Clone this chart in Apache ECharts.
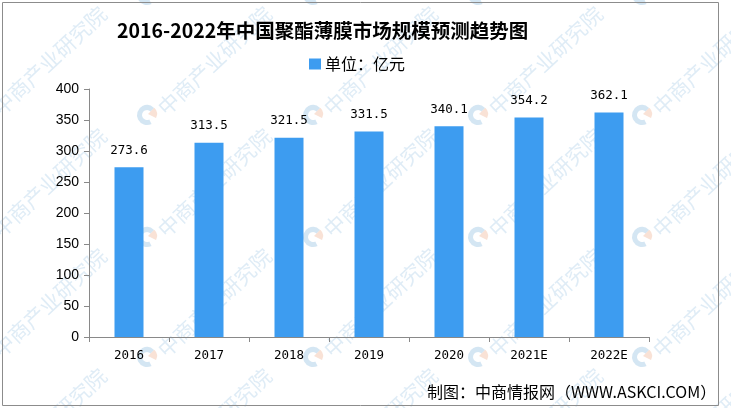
<!DOCTYPE html>
<html>
<head>
<meta charset="utf-8">
<script src="https://cdn.jsdelivr.net/npm/echarts@6/dist/echarts.min.js"></script>
<style>
  html, body { margin: 0; padding: 0; background: #fff; }
  #chart { width: 731px; height: 408px; }
</style>
</head>
<body>
<div id="chart"></div>
<script>
// 年份与市场规模（亿元）
var years = ['2016', '2017', '2018', '2019', '2020', '2021E', '2022E'];
var scale = [273.6, 313.5, 321.5, 331.5, 340.1, 354.2, 362.1];
var yTicks = { min: 0, max: 400, interval: 50 };

var monoFont = '"DejaVu Sans Mono", "Liberation Mono", monospace';
var sansFont = '"Liberation Sans", Arial, sans-serif';
var cjkFont = '"Noto Sans CJK SC", sans-serif';

// 水印（中商产业研究院），铺在柱子下面
var wmCols = [-18, 147, 313, 478, 642, 807];
var wmRows = [-5, 115, 237, 357, 477];
var watermark = [];
wmCols.forEach(function (cx) {
  wmRows.forEach(function (cy) {
    watermark.push({
      type: 'group', x: cx, y: cy, z: -10, silent: true,
      children: [
        { type: 'arc', shape: { cx: 0, cy: 0, r: 7.5, startAngle: Math.PI * 0.35, endAngle: Math.PI * 1.75 },
          style: { stroke: 'rgba(170,205,232,0.5)', lineWidth: 5, fill: 'none' } },
        { type: 'sector', shape: { cx: 1, cy: -1, r0: 0, r: 9, startAngle: Math.PI * 1.75, endAngle: Math.PI * 2.15 },
          style: { fill: 'rgba(242,190,165,0.45)' } },
        { type: 'text', x: 14, y: -4, rotation: Math.PI * 0.24,
          style: { text: '中商产业研究院', fontFamily: cjkFont, fontWeight: 'normal', fontSize: 21,
                   fill: 'rgba(185,213,236,0.45)', textAlign: 'left', textVerticalAlign: 'middle' } }
      ]
    });
  });
});

var chart = echarts.init(document.getElementById('chart'));
var option = {
  backgroundColor: '#fff',
  animation: false,
  title: {
    text: '2016-2022年中国聚酯薄膜市场规模预测趋势图',
    left: 112,
    top: 16,
    textStyle: { fontFamily: cjkFont, fontSize: 19.5, fontWeight: 'bold', color: '#000' }
  },
  legend: {
    data: ['单位：亿元'],
    top: 51,
    left: 304,
    itemWidth: 12,
    itemHeight: 11,
    itemGap: 6,
    icon: 'rect',
    textStyle: { fontFamily: cjkFont, fontSize: 16, color: '#000', padding: [0, 0, 0, -1] }
  },
  grid: { left: 89, right: 82, top: 89, bottom: 71 },
  xAxis: {
    type: 'category',
    data: years,
    axisLine: { lineStyle: { color: '#898989' } },
    axisTick: { show: true, alignWithLabel: false, length: 5, lineStyle: { color: '#898989' } },
    axisLabel: { fontFamily: monoFont, fontSize: 12.5, color: '#000', margin: 12 }
  },
  yAxis: {
    type: 'value',
    min: yTicks.min,
    max: yTicks.max,
    interval: yTicks.interval,
    axisLine: { show: true, lineStyle: { color: '#898989' } },
    axisTick: { show: true, length: 5, lineStyle: { color: '#898989' } },
    splitLine: { show: false },
    axisLabel: { fontFamily: sansFont, fontSize: 14, color: '#000', margin: 10 }
  },
  series: [{
    name: '单位：亿元',
    type: 'bar',
    data: scale,
    barWidth: 29,
    itemStyle: { color: '#3D9CF0' },
    label: {
      show: true,
      position: 'top',
      distance: 10,
      fontFamily: monoFont,
      fontSize: 12.5,
      color: '#000',
      formatter: function (p) { return p.value.toFixed(1); }
    }
  }],
  graphic: watermark.concat([
    {
      type: 'rect',
      shape: { x: 2.5, y: 2.5, width: 716, height: 403 },
      style: { fill: 'none', stroke: '#8c8c8c', lineWidth: 1 },
      silent: true
    },
    {
      type: 'text',
      left: 427,
      top: 384,
      style: {
        text: '制图：中商情报网（WWW.ASKCI.COM）',
        fontFamily: cjkFont,
        fontSize: 16,
        fill: '#000'
      }
    }
  ])
};
chart.setOption(option);
</script>
</body>
</html>
